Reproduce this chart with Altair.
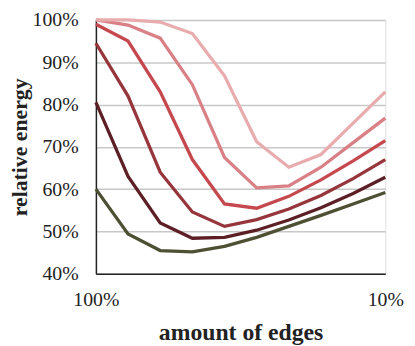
import altair as alt
import pandas as pd

edges = [100, 90, 80, 70, 60, 50, 40, 30, 20, 10]
s1 = [60, 49.4, 45.5, 45.2, 46.5, 48.6, 51.2, 53.8, 56.5, 59.2]
s2 = [80.5, 63, 52, 48.4, 48.6, 50.3, 52.7, 55.6, 59, 62.8]
s3 = [94.5, 82, 64, 54.6, 51.2, 52.8, 55.3, 58.5, 62.5, 67]
s4 = [99, 95, 83, 67, 56.5, 55.5, 58.3, 62.2, 66.7, 71.5]
s5 = [100, 98.8, 95.7, 84.7, 67.5, 60.3, 60.8, 65.2, 71, 76.8]
s6 = [100, 100, 99.5, 96.8, 86.8, 71.2, 65.2, 68.2, 75.6, 83]

series_names = ["s1", "s2", "s3", "s4", "s5", "s6"]
series_vals = [s1, s2, s3, s4, s5, s6]
colors = ["#4d5032", "#5c1f25", "#96363c", "#c4484e", "#d98086", "#e9acae"]

rows = []
for name, vals in zip(series_names, series_vals):
    for e, v in zip(edges, vals):
        rows.append({"series": name, "edges": e, "energy": v})
df = pd.DataFrame(rows)

font = "Liberation Serif"

chart = alt.Chart(df).mark_line(strokeWidth=3.3, strokeJoin="miter").encode(
    x=alt.X("edges:Q",
            scale=alt.Scale(domain=[100, 10], nice=False, zero=False),
            axis=alt.Axis(values=[100, 10], labelExpr="datum.value + '%'",
                          grid=False, ticks=False, domainColor="#222",
                          domainWidth=1.5, labelPadding=16, labelFlush=False,
                          labelFontSize=20, labelFont=font, labelColor="#222",
                          title="amount of edges", titleFont=font,
                          titleFontSize=24, titleFontWeight="bold",
                          titleColor="#222", titlePadding=12)),
    y=alt.Y("energy:Q",
            scale=alt.Scale(domain=[40, 100], nice=False, zero=False),
            axis=alt.Axis(values=[40, 50, 60, 70, 80, 90, 100],
                          labelExpr="datum.value + '%'", labelFlush=False,
                          grid=True, gridColor="#c8c8c8", gridWidth=1.5,
                          ticks=False, domainColor="#222", domainWidth=1.5,
                          labelPadding=18, labelFontSize=20, labelFont=font,
                          labelColor="#222",
                          title="relative energy", titleFont=font,
                          titleFontSize=22, titleFontWeight="bold",
                          titleColor="#222", titlePadding=1)),
    color=alt.Color("series:N", scale=alt.Scale(domain=series_names, range=colors),
                    legend=None),
    order=alt.Order("edges:Q", sort="descending"),
).properties(
    width=293, height=257,
    autosize=alt.AutoSizeParams(type="none"),
    padding={"left": 89, "top": 10, "right": 22, "bottom": 70},
).configure_view(stroke="#555", strokeWidth=1.5).configure(background="white")

chart.save("out.html", embed_options={"renderer": "svg", "actions": False})
